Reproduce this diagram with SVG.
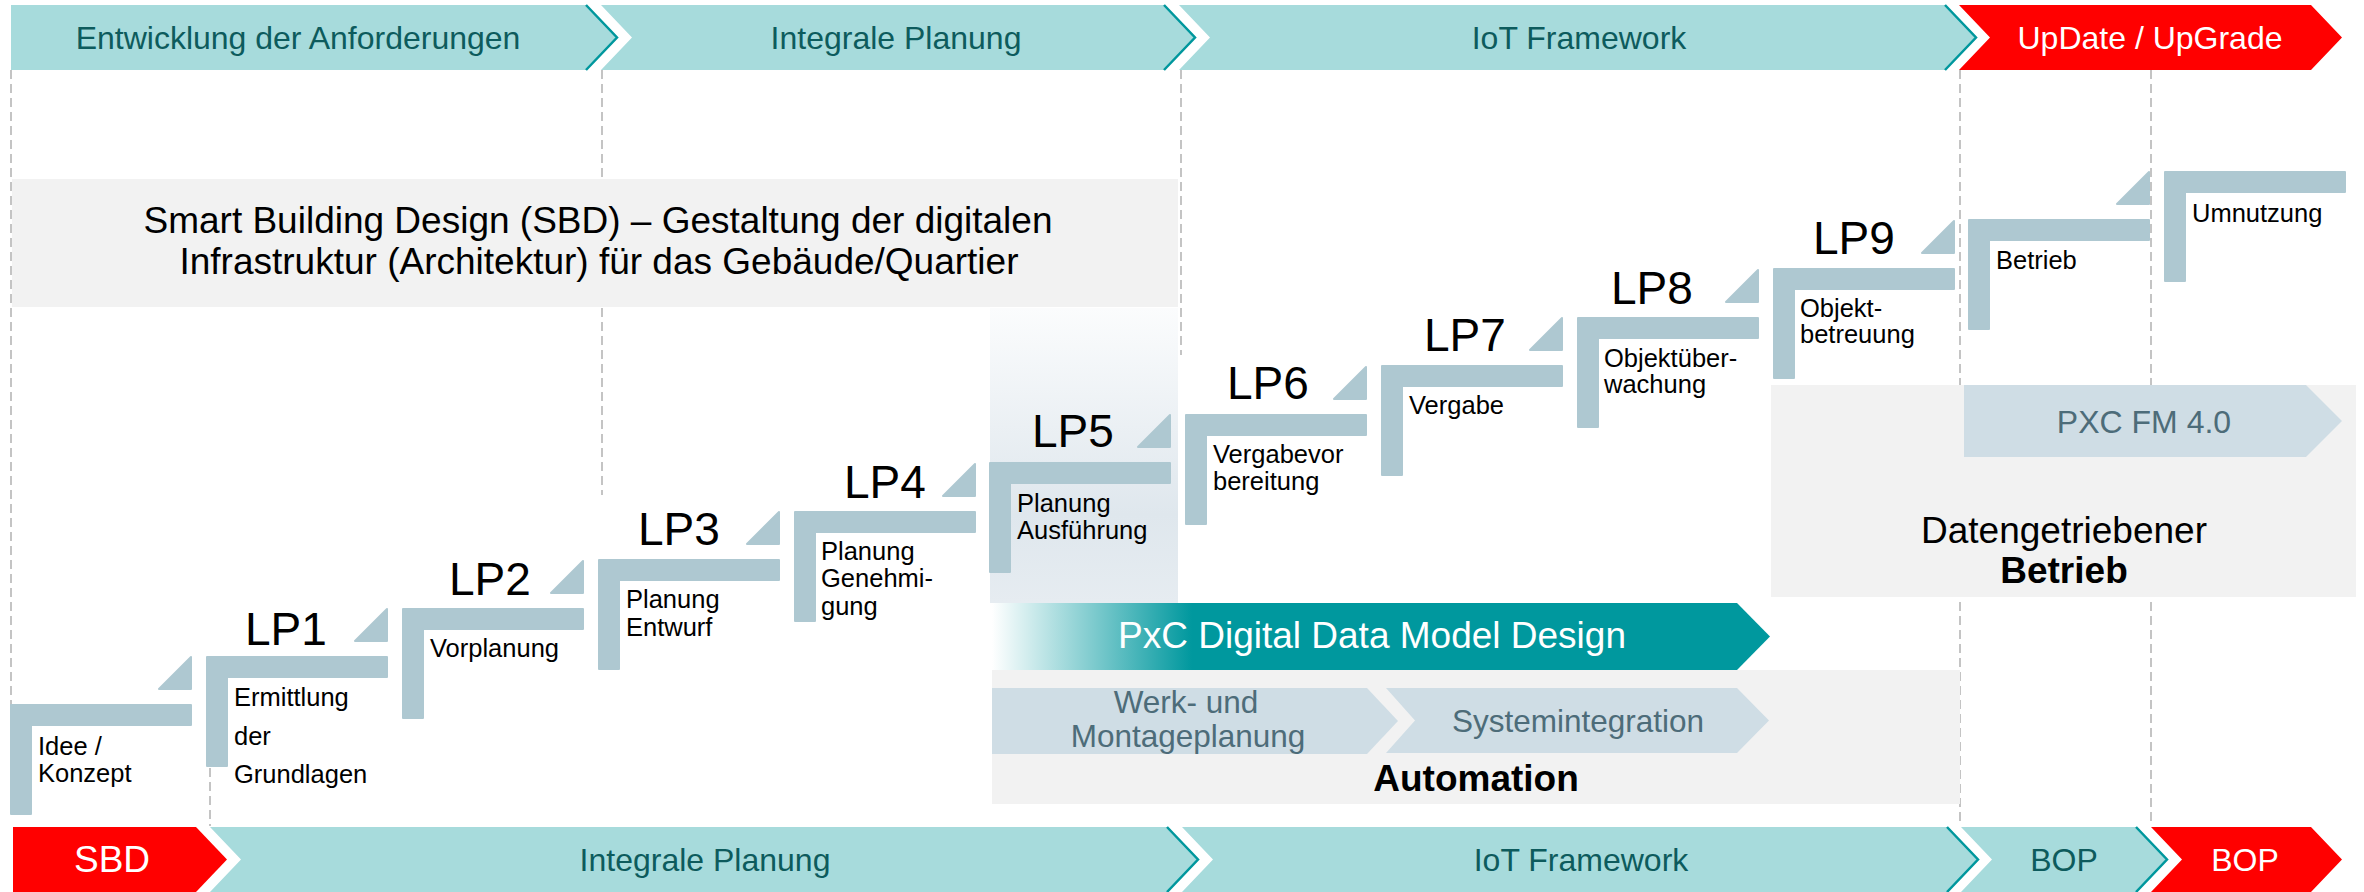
<svg xmlns="http://www.w3.org/2000/svg" width="2364" height="892" viewBox="0 0 2364 892">
<defs>
<style>
text{font-family:"Liberation Sans",Arial,sans-serif}
.bt{font-size:32px;fill:#0d5b5d;text-anchor:middle}
.bw{font-size:32px;fill:#ffffff;text-anchor:middle}
.teal{fill:#a7dbdc}
.red{fill:#ff0000}
.edge{fill:none;stroke:#00979d;stroke-width:2.5}
.guide{stroke:#c4c4c4;stroke-width:2;stroke-dasharray:9 5;fill:none}
.lp{font-size:46px;fill:#000000}
.lbl{font-size:25.5px;fill:#000000}
.box{fill:#f2f2f2}
.soft{fill:#cfdde5}
.st{font-size:31.5px;fill:#4d6c79;text-anchor:middle}
.big{font-size:37px;fill:#000000;text-anchor:middle}
.bold{font-weight:bold}
.step{fill:#aec8d1;stroke:#aec8d1;stroke-width:2;stroke-linejoin:round}
</style>
<path id="stepL" d="M1,1 H181 V21 H21 V110 H1 Z"/>
<path id="tri" d="M149,-15 L181,-47 V-15 Z"/>
<linearGradient id="lp5bg" x1="0" y1="0" x2="0" y2="1">
<stop offset="0" stop-color="#fbfcfd"/>
<stop offset="0.7" stop-color="#dfe7ed"/>
<stop offset="1" stop-color="#e6ecf1"/>
</linearGradient>
<linearGradient id="pxc" gradientUnits="userSpaceOnUse" x1="992" y1="0" x2="1192" y2="0">
<stop offset="0" stop-color="#ffffff"/>
<stop offset="1" stop-color="#00989e"/>
</linearGradient>
</defs>
<rect x="0" y="0" width="2364" height="892" fill="#ffffff"/>

<g id="guides">
<line class="guide" x1="11" y1="70" x2="11" y2="705"/>
<line class="guide" x1="210" y1="768" x2="210" y2="826"/>
<line class="guide" x1="602" y1="70" x2="602" y2="495"/>
<line class="guide" x1="1181" y1="70" x2="1181" y2="355"/>
<line class="guide" x1="1960" y1="70" x2="1960" y2="826"/>
<line class="guide" x1="2151" y1="70" x2="2151" y2="826"/>
</g>

<g id="top-banner">
<g id="top-entwicklung">
<path class="teal" d="M11,5 L586,5 L617,37.5 L586,70 L11,70 Z"/>
<path class="edge" d="M586,5 L617,37.5 L586,70"/>
<text class="bt" x="298" y="49">Entwicklung der Anforderungen</text>
</g>
<g id="top-integrale">
<path class="teal" d="M601,5 L1164,5 L1195,37.5 L1164,70 L601,70 L632,37.5 Z"/>
<path class="edge" d="M1164,5 L1195,37.5 L1164,70"/>
<text class="bt" x="896" y="49">Integrale Planung</text>
</g>
<g id="top-iot">
<path class="teal" d="M1179,5 L1945,5 L1976,37.5 L1945,70 L1179,70 L1210,37.5 Z"/>
<path class="edge" d="M1945,5 L1976,37.5 L1945,70"/>
<text class="bt" x="1579" y="49">IoT Framework</text>
</g>
<g id="top-update">
<path class="red" d="M1959,5 L2311,5 L2342,37.5 L2311,70 L1959,70 L1990,37.5 Z"/>
<text class="bw" x="2150" y="49">UpDate / UpGrade</text>
</g>
</g>

<g id="bottom-banner">
<g id="bot-sbd">
<path class="red" d="M13,827 L196,827 L227,859.5 L196,892 L13,892 Z"/>
<text class="bw" x="112" y="872" style="font-size:37px">SBD</text>
</g>
<g id="bot-integrale">
<path class="teal" d="M210,827 L1167,827 L1198,859.5 L1167,892 L210,892 L241,859.5 Z"/>
<path class="edge" d="M1167,827 L1198,859.5 L1167,892"/>
<text class="bt" x="705" y="871">Integrale Planung</text>
</g>
<g id="bot-iot">
<path class="teal" d="M1182,827 L1947,827 L1978,859.5 L1947,892 L1182,892 L1213,859.5 Z"/>
<path class="edge" d="M1947,827 L1978,859.5 L1947,892"/>
<text class="bt" x="1581" y="871">IoT Framework</text>
</g>
<g id="bot-bop1">
<path class="teal" d="M1961,827 L2136,827 L2167,859.5 L2136,892 L1961,892 L1992,859.5 Z"/>
<path class="edge" d="M2136,827 L2167,859.5 L2136,892"/>
<text class="bt" x="2064" y="871">BOP</text>
</g>
<g id="bot-bop2">
<path class="red" d="M2151,827 L2311,827 L2342,859.5 L2311,892 L2151,892 L2182,859.5 Z"/>
<text class="bw" x="2245" y="871">BOP</text>
</g>
</g>

<g id="sbd-box">
<rect class="box" x="12" y="179" width="1166" height="128"/>
<text class="big" x="598" y="233">Smart Building Design (SBD) – Gestaltung der digitalen</text>
<text class="big" x="599" y="274">Infrastruktur (Architektur) für das Gebäude/Quartier</text>
</g>

<g id="lp5-background">
<rect x="990" y="308" width="188" height="295" fill="url(#lp5bg)"/>
</g>

<g id="automation">
<rect class="box" x="992" y="670" width="968" height="134"/>
<g id="werk">
<path class="soft" d="M992,688 L1367,688 L1398,721 L1367,754 L992,754 Z"/>
<text class="st" x="1186" y="713">Werk- und</text>
<text class="st" x="1188" y="747">Montageplanung</text>
</g>
<g id="systemintegration">
<path class="soft" d="M1386,688 L1737,688 L1769,720.5 L1737,753 L1386,753 L1415,720.5 Z"/>
<text class="st" x="1578" y="732">Systemintegration</text>
</g>
<text class="big bold" x="1476" y="791">Automation</text>
</g>

<g id="pxc-ddmd">
<path d="M992,603 L1737,603 L1770,636.5 L1737,670 L992,670 Z" fill="url(#pxc)"/>
<text class="big" x="1372" y="648" style="fill:#ffffff">PxC Digital Data Model Design</text>
</g>

<g id="datengetrieben">
<rect class="box" x="1771" y="385" width="585" height="212"/>
<g id="pxc-fm">
<path class="soft" d="M1964,385 L2306,385 L2342,421 L2306,457 L1964,457 Z"/>
<text class="st" x="2144" y="433" style="font-size:32px">PXC FM 4.0</text>
</g>
<text class="big" x="2064" y="543">Datengetriebener</text>
<text class="big bold" x="2064" y="583">Betrieb</text>
</g>

<g id="step-idee">
<use href="#stepL" class="step" x="10" y="704"/>
<use href="#tri" class="step" x="10" y="704"/>
<text class="lbl" x="38" y="755">Idee /</text>
<text class="lbl" x="38" y="782">Konzept</text>
</g>
<g id="step-lp1">
<use href="#stepL" class="step" x="206" y="656"/>
<use href="#tri" class="step" x="206" y="656"/>
<text class="lp" x="245" y="645">LP1</text>
<text class="lbl" x="234" y="706">Ermittlung</text>
<text class="lbl" x="234" y="745">der</text>
<text class="lbl" x="234" y="783">Grundlagen</text>
</g>
<g id="step-lp2">
<use href="#stepL" class="step" x="402" y="608"/>
<use href="#tri" class="step" x="402" y="608"/>
<text class="lp" x="449" y="595">LP2</text>
<text class="lbl" x="430" y="657">Vorplanung</text>
</g>
<g id="step-lp3">
<use href="#stepL" class="step" x="598" y="559"/>
<use href="#tri" class="step" x="598" y="559"/>
<text class="lp" x="638" y="545">LP3</text>
<text class="lbl" x="626" y="608">Planung</text>
<text class="lbl" x="626" y="636">Entwurf</text>
</g>
<g id="step-lp4">
<use href="#stepL" class="step" x="794" y="511"/>
<use href="#tri" class="step" x="794" y="511"/>
<text class="lp" x="844" y="498">LP4</text>
<text class="lbl" x="821" y="560">Planung</text>
<text class="lbl" x="821" y="587">Genehmi-</text>
<text class="lbl" x="821" y="615">gung</text>
</g>
<g id="step-lp5">
<use href="#stepL" class="step" x="989" y="462"/>
<use href="#tri" class="step" x="989" y="462"/>
<text class="lp" x="1032" y="447">LP5</text>
<text class="lbl" x="1017" y="512">Planung</text>
<text class="lbl" x="1017" y="539">Ausführung</text>
</g>
<g id="step-lp6">
<use href="#stepL" class="step" x="1185" y="414"/>
<use href="#tri" class="step" x="1185" y="414"/>
<text class="lp" x="1227" y="399">LP6</text>
<text class="lbl" x="1213" y="463">Vergabevor</text>
<text class="lbl" x="1213" y="490">bereitung</text>
</g>
<g id="step-lp7">
<use href="#stepL" class="step" x="1381" y="365"/>
<use href="#tri" class="step" x="1381" y="365"/>
<text class="lp" x="1424" y="351">LP7</text>
<text class="lbl" x="1409" y="414">Vergabe</text>
</g>
<g id="step-lp8">
<use href="#stepL" class="step" x="1577" y="317"/>
<use href="#tri" class="step" x="1577" y="317"/>
<text class="lp" x="1611" y="304">LP8</text>
<text class="lbl" x="1604" y="367">Objektüber-</text>
<text class="lbl" x="1604" y="393">wachung</text>
</g>
<g id="step-lp9">
<use href="#stepL" class="step" x="1773" y="268"/>
<use href="#tri" class="step" x="1773" y="268"/>
<text class="lp" x="1813" y="254">LP9</text>
<text class="lbl" x="1800" y="317">Objekt-</text>
<text class="lbl" x="1800" y="343">betreuung</text>
</g>
<g id="step-betrieb">
<use href="#stepL" class="step" x="1968" y="219"/>
<use href="#tri" class="step" x="1968" y="219"/>
<text class="lbl" x="1996" y="269">Betrieb</text>
</g>
<g id="step-umnutzung">
<use href="#stepL" class="step" x="2164" y="171"/>
<text class="lbl" x="2192" y="222">Umnutzung</text>
</g>

<g id="connectors"></g>
</svg>
